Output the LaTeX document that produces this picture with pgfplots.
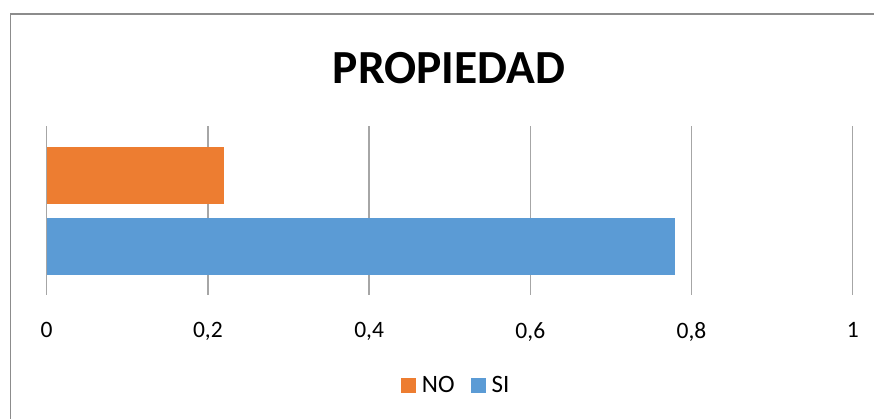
\documentclass[border=0pt]{standalone}
\usepackage{fontspec}
\setmainfont{Carlito}
\usepackage{pgfplots}
\pgfplotsset{compat=1.18}
\definecolor{orangeNO}{HTML}{ED7D31}
\definecolor{blueSI}{HTML}{5B9BD5}
\definecolor{gridgray}{HTML}{A6A6A6}
\definecolor{framegray}{HTML}{8C8C8C}
\begin{document}
\begin{tikzpicture}
\useasboundingbox (0pt,0pt) rectangle (874pt,419pt);
% chart frame (only top and left edges visible)
\draw[framegray, line width=1.5pt] (10.5pt,0pt) -- (10.5pt,405pt) -- (874pt,405pt);
\node[font=\fontsize{47.5}{50}\selectfont\bfseries] at (449pt,351pt) {PROPIEDAD};
\begin{axis}[
    at={(46.7pt,124pt)}, anchor=south west,
    scale only axis, width=806pt, height=169pt,
    xbar, bar width=56.7pt,
    xmin=0, xmax=1, ymin=-1, ymax=1,
    xtick={0,0.2,0.4,0.6,0.8,1},
    xticklabels={0,{0,2},{0,4},{0,6},{0,8},1},
    ytick=\empty,
    axis line style={draw=none},
    major tick length=0pt,
    xmajorgrids,
    grid style={gridgray, line width=1.5pt},
    /pgf/number format/assume math mode=true,
    xticklabel style={font=\fontsize{23.5}{26}\selectfont, anchor=north, inner sep=0pt, yshift=-27pt},
    legend style={
        at={(0.508,-0.535)}, anchor=center, draw=none,
        legend columns=2,
        font=\fontsize{25}{28}\selectfont,
        /tikz/every odd column/.append style={column sep=4pt},
        /tikz/every even column/.append style={column sep=14pt},
    },
    legend image code/.code={\fill[#1] (0pt,-7.5pt) rectangle (15pt,7.5pt);},
]
\addplot[fill=orangeNO, draw=none, bar shift=35.2pt] coordinates {(0.22,0)};
\addplot[fill=blueSI, draw=none, bar shift=-35.8pt] coordinates {(0.78,0)};
\legend{NO, SI}
\end{axis}
\end{tikzpicture}
\end{document}
